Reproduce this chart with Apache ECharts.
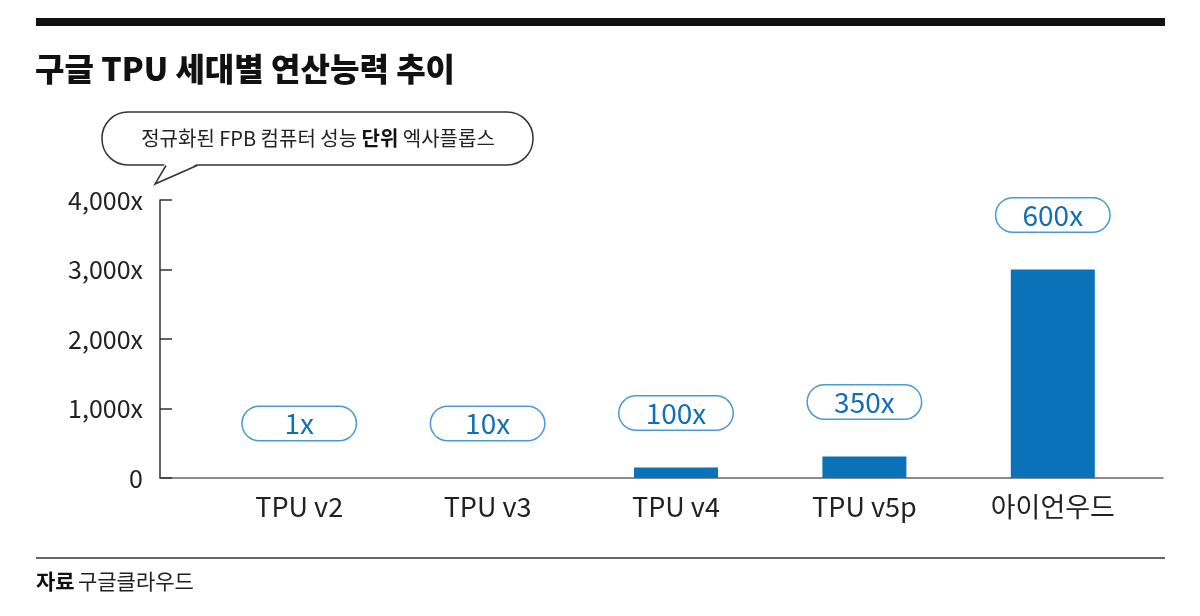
<!DOCTYPE html>
<html><head><meta charset="utf-8">
<script src="https://cdn.jsdelivr.net/npm/echarts@6/dist/echarts.min.js"></script>
<style>html,body{margin:0;padding:0;background:#fff}#c{width:1200px;height:616px}</style>
</head><body><div id="c"></div>
<script>
const categories = ['TPU v2', 'TPU v3', 'TPU v4', 'TPU v5p', '아이언우드'];
const values = [0, 0, 150, 310, 3000];
const multipleLabels = ['1x', '10x', '100x', '350x', '600x'];
const yTickLabels = ['0', '1,000x', '2,000x', '3,000x', '4,000x'];

const FONT = '"Noto Sans CJK KR", "Noto Sans", sans-serif';
const chart = echarts.init(document.getElementById('c'), null, { renderer: 'canvas' });

const option = {
  animation: false,
  backgroundColor: '#fff',
  grid: [
    { left: 160, right: 37, top: 200, bottom: 138 },
    { left: 205, right: 53, top: 200, bottom: 138 }
  ],
  xAxis: [
    { type: 'category', gridIndex: 0, data: categories,
      axisLine: { lineStyle: { color: '#666', width: 1.5 } },
      axisTick: { show: false }, axisLabel: { show: false } },
    { type: 'category', gridIndex: 1, data: categories,
      axisLine: { show: false }, axisTick: { show: false },
      axisLabel: { fontSize: 27, color: '#222', margin: 15, fontFamily: FONT } }
  ],
  yAxis: [
    { type: 'value', gridIndex: 0, min: 0, max: 4000, interval: 1000,
      axisLine: { show: true, lineStyle: { color: '#333', width: 1.5 } },
      axisTick: { show: true, inside: true, length: 12, lineStyle: { color: '#333', width: 1.5 } },
      splitLine: { show: false },
      axisLabel: { formatter: v => yTickLabels[Math.round(v / 1000)], fontSize: 25, color: '#222', margin: 17, fontFamily: FONT } },
    { type: 'value', gridIndex: 1, min: 0, max: 4000, interval: 1000, show: false }
  ],
  series: [{
    type: 'bar', xAxisIndex: 1, yAxisIndex: 1, data: values, barWidth: 84,
    itemStyle: { color: '#0a72b8' },
    label: {
      show: true, position: 'top', distance: 38,
      formatter: p => multipleLabels[p.dataIndex],
      fontFamily: FONT, fontSize: 28, color: '#1170b5',
      backgroundColor: '#fff', borderColor: '#4a9ad4', borderWidth: 1.5, borderRadius: 17,
      width: 113, height: 33, lineHeight: 33, align: 'center', padding: [0, 0]
    }
  }],
  graphic: [
    { type: 'rect', shape: { x: 36, y: 18, width: 1129, height: 8 }, style: { fill: '#111' } },
    { type: 'text', style: { text: '구글 TPU 세대별 연산능력 추이', x: 35, y: 69,
        font: '900 32px ' + FONT, fill: '#111', verticalAlign: 'middle', textVerticalAlign: 'middle' } },
    { type: 'rect', z: 10, shape: { x: 102, y: 112, width: 431, height: 53, r: 26 },
      style: { fill: '#fff', stroke: '#333', lineWidth: 1.5 } },
    { type: 'polygon', z: 11, shape: { points: [[165, 163.5], [155, 184], [198, 163.5]] },
      style: { fill: '#fff' } },
    { type: 'polyline', z: 12, shape: { points: [[166, 165.5], [155, 184], [197, 165.5]] },
      style: { stroke: '#333', lineWidth: 1.5, fill: null } },
    { type: 'text', z: 13, style: {
        text: '{n|정규화된 FPB 컴퓨터 성능 }{b|단위}{n| 엑사플롭스}', x: 318, y: 138,
        align: 'center', textAlign: 'center', verticalAlign: 'middle', textVerticalAlign: 'middle',
        rich: {
          n: { fontFamily: FONT, fontSize: 20, fill: '#222', color: '#222' },
          b: { fontFamily: FONT, fontSize: 20, fontWeight: 'bold', fill: '#111', color: '#111' }
        } } },
    { type: 'line', shape: { x1: 36, y1: 558, x2: 1165, y2: 558 }, style: { stroke: '#666', lineWidth: 2 } },
    { type: 'text', style: {
        text: '{b|자료} {n|구글클라우드}', x: 36, y: 581,
        verticalAlign: 'middle', textVerticalAlign: 'middle',
        rich: {
          n: { fontFamily: FONT, fontSize: 21, fill: '#222', color: '#222' },
          b: { fontFamily: FONT, fontSize: 21, fontWeight: 'bold', fill: '#111', color: '#111' }
        } } }
  ]
};
chart.setOption(option);
</script></body></html>
